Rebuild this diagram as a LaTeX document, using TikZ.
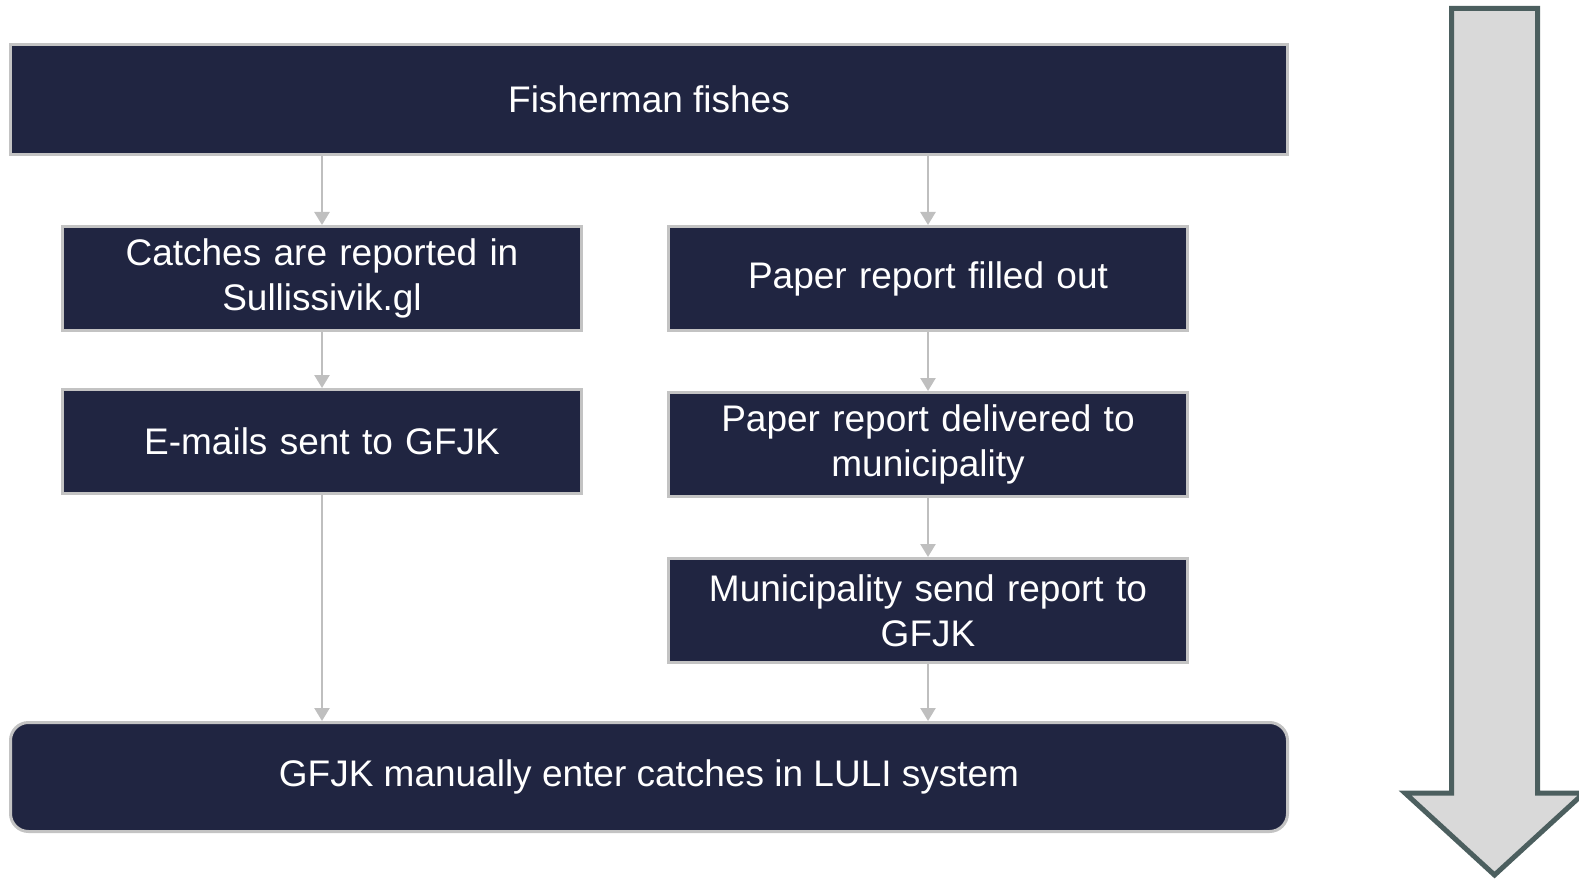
\documentclass[tikz,border=0pt]{standalone}
\usepackage{fontspec}
\setmainfont{Liberation Sans}
\usepackage{tikz}
\usetikzlibrary{calc,positioning,arrows.meta}
\definecolor{navy}{HTML}{202541}
\definecolor{rim}{HTML}{C3C3C3}
\definecolor{flow}{HTML}{BFBFBF}
\definecolor{bigfill}{HTML}{D9D9D9}
\definecolor{bigedge}{HTML}{4C5F5F}
\tikzset{
  line/.style={-{Triangle[width=7.5pt,length=6.5pt]}, draw=flow, line width=1.25pt},
  box/.style={draw=rim, fill=navy, text=white, line width=1.5pt, align=center, inner sep=3pt,
    font=\fontsize{18.5}{22.5}\selectfont},
  colbox/.style={box, minimum width=259.5pt, minimum height=52pt, text width=250pt},
  widebox/.style={box, minimum width=638.5pt, minimum height=55pt}
}
\begin{document}
\begin{tikzpicture}[x=0.5pt, y=-0.5pt, node distance=28pt]
  \useasboundingbox (0,0) rectangle (1579,882);
  \node[widebox] (fish) at (649,99.5) {Fisherman fishes};
  \node[colbox] (catch) at (322,278.5) {Catches are reported in\\Sullissivik.gl};
  \node[colbox, below=of catch] (email) {E-mails sent to GFJK};
  \node[colbox, right=42pt of catch] (paper) {Paper report filled out};
  \node[colbox, below=29.5pt of paper] (deliv) {Paper report delivered to\\municipality};
  \node[colbox, below=29.5pt of deliv] (muni) {Municipality send report to\\GFJK};
  \node[widebox, rounded corners=9pt, minimum height=54.5pt] (luli) at (649,777) {GFJK manually enter catches in LULI system};
  \draw[line] (catch.north |- fish.south) -- (catch.north);
  \draw[line] (paper.north |- fish.south) -- (paper.north);
  \draw[line] (catch) -- (email);
  \draw[line] (email.south) -- (email.south |- luli.north);
  \draw[line] (paper) -- (deliv);
  \draw[line] (deliv) -- (muni);
  \draw[line] (muni.south) -- (muni.south |- luli.north);
  \draw[draw=bigedge, fill=bigfill, line width=2.5pt]
    (1451.5,8.5) -- (1537.5,8.5) -- (1537.5,793) -- (1584,793) -- (1494.5,875)
    -- (1405,793) -- (1451.5,793) -- cycle;
\end{tikzpicture}
\end{document}
